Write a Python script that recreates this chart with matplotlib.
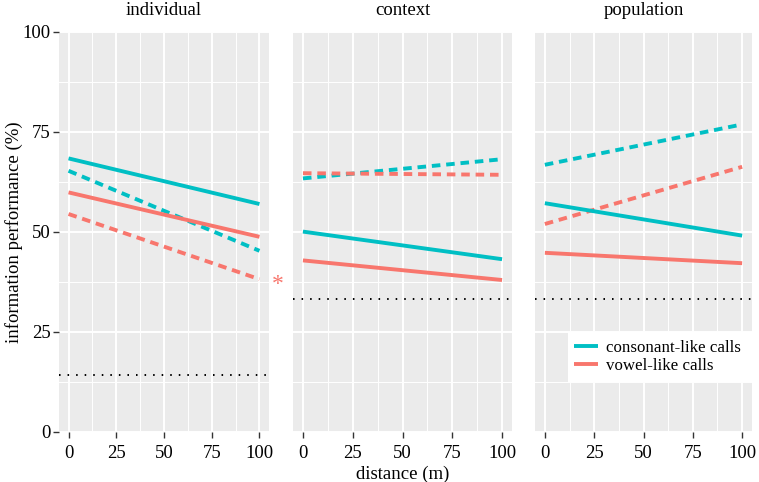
import matplotlib
matplotlib.use("Agg")
import matplotlib.pyplot as plt
from matplotlib.patches import Rectangle

plt.rcParams['font.family'] = ['Liberation Serif', 'DejaVu Serif']

# distance (m) at which model predictions are read
distance = [0, 100]

panels = ["individual", "context", "population"]

# information performance (%) at distance 0 and 100
consonant_solid = {"individual": [68.4, 57.0], "context": [50.1, 43.2], "population": [57.2, 49.1]}
consonant_dash = {"individual": [65.3, 45.3], "context": [63.4, 68.2], "population": [66.8, 76.9]}
vowel_solid = {"individual": [59.9, 48.8], "context": [42.9, 38.0], "population": [44.8, 42.2]}
vowel_dash = {"individual": [54.5, 38.2], "context": [64.7, 64.3], "population": [52.0, 66.3]}

# chance level per panel
chance = {"individual": 14.3, "context": 33.3, "population": 33.3}

cyan = "#00BFC4"
red = "#F8766D"

W, H = 759, 482
fig = plt.figure(figsize=(W / 100, H / 100), dpi=100)

boxes = [(59, 269), (293, 512), (535, 752)]
axes = []
for i, name in enumerate(panels):
    x0, x1 = boxes[i]
    ax = fig.add_axes([x0 / W, 50 / H, (x1 - x0) / W, 400 / H])
    axes.append(ax)
    ax.set_facecolor("#EBEBEB")
    for s in ax.spines.values():
        s.set_visible(False)
    ax.set_xlim(-5, 105)
    ax.set_ylim(0, 100)
    ax.set_xticks([0, 25, 50, 75, 100])
    ax.set_yticks([0, 25, 50, 75, 100])
    ax.set_xticks([12.5, 37.5, 62.5, 87.5], minor=True)
    ax.set_yticks([12.5, 37.5, 62.5, 87.5], minor=True)
    ax.grid(which="major", color="white", lw=1.4)
    ax.grid(which="minor", color="white", lw=0.7)
    ax.set_axisbelow(True)
    ax.tick_params(which="minor", length=0)
    ax.tick_params(which="major", length=4, width=1.0, color="#333333",
                   labelsize=13.5, labelcolor="black", pad=2)
    ax.tick_params(axis="x", pad=5)
    if i > 0:
        ax.tick_params(axis="y", left=False, labelleft=False)

    ax.axhline(chance[name], color="black", lw=1.4, ls=(0, (0.8, 3.6)), zorder=2)
    ax.plot(distance, consonant_dash[name], color=cyan, lw=2.8, ls=(0, (2.2, 1.5)), zorder=3)
    ax.plot(distance, vowel_dash[name], color=red, lw=2.8, ls=(0, (2.2, 1.5)), zorder=3)
    ax.plot(distance, consonant_solid[name], color=cyan, lw=2.8, solid_capstyle="butt",
            label="consonant-like calls", zorder=3)
    ax.plot(distance, vowel_solid[name], color=red, lw=2.8, solid_capstyle="butt",
            label="vowel-like calls", zorder=3)
    ax.set_title(name, fontsize=13.5, pad=12)

axes[0].text(109.5, 37.0, "*", color=red, fontsize=17, ha="center", va="center", clip_on=False)
axes[0].set_ylabel("information performance (%)", fontsize=13.5, labelpad=0)
axes[1].set_xlabel("distance (m)", fontsize=13.5, labelpad=3)

# white legend box flush with the right edge of the last panel
ax3 = axes[2]
ax3.add_patch(Rectangle((0.152, 0.125), 0.848, 0.125, transform=ax3.transAxes,
                        facecolor="white", edgecolor="none", zorder=4))
leg = ax3.legend(loc="center left", bbox_to_anchor=(0.178, 0.1875), borderaxespad=0,
                 fontsize=12.2, frameon=False, handlelength=1.45,
                 handletextpad=0.45, borderpad=0, labelspacing=0.1)
leg.set_zorder(5)

fig.savefig("out.png", dpi=100)
